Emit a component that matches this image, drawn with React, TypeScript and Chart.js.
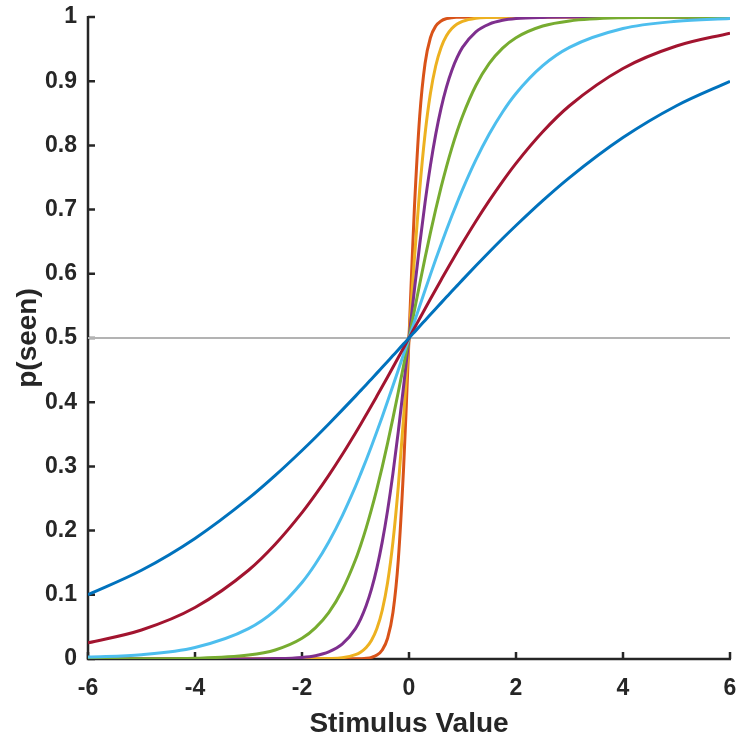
import React, { useEffect, useRef } from "react";
import { Chart, registerables } from "chart.js";

Chart.register(...registerables);

const xValues = [-6, -5, -4, -3, -2.5, -2, -1.75, -1.5, -1.25, -1, -0.9, -0.8, -0.7, -0.6, -0.5, -0.4, -0.3, -0.2, -0.1, -0.05, 0, 0.05, 0.1, 0.2, 0.3, 0.4, 0.5, 0.6, 0.7, 0.8, 0.9, 1, 1.25, 1.5, 1.75, 2, 2.5, 3, 4, 5, 6];

const blueSeries = [0.1001, 0.1382, 0.1878, 0.2501, 0.2860, 0.3248, 0.3451, 0.3661, 0.3876, 0.4095, 0.4184, 0.4273, 0.4363, 0.4453, 0.4544, 0.4635, 0.4726, 0.4817, 0.4909, 0.4954, 0.5, 0.5046, 0.5091, 0.5183, 0.5274, 0.5365, 0.5456, 0.5547, 0.5637, 0.5727, 0.5816, 0.5905, 0.6124, 0.6339, 0.6549, 0.6752, 0.7140, 0.7499, 0.8122, 0.8618, 0.8999];
const redSeries = [0.0251, 0.0452, 0.0802, 0.1382, 0.1787, 0.2279, 0.2559, 0.2860, 0.3181, 0.3521, 0.3661, 0.3804, 0.3948, 0.4095, 0.4243, 0.4393, 0.4544, 0.4695, 0.4848, 0.4924, 0.5, 0.5076, 0.5152, 0.5305, 0.5456, 0.5607, 0.5757, 0.5905, 0.6052, 0.6196, 0.6339, 0.6479, 0.6819, 0.7140, 0.7441, 0.7721, 0.8213, 0.8618, 0.9198, 0.9548, 0.9749];
const lightBlueSeries = [0.0030, 0.0067, 0.0180, 0.0474, 0.0759, 0.1192, 0.1480, 0.1824, 0.2227, 0.2689, 0.2891, 0.3100, 0.3318, 0.3543, 0.3775, 0.4013, 0.4256, 0.4502, 0.4750, 0.4875, 0.5, 0.5125, 0.5250, 0.5498, 0.5744, 0.5987, 0.6225, 0.6457, 0.6682, 0.6900, 0.7109, 0.7311, 0.7773, 0.8176, 0.8520, 0.8808, 0.9241, 0.9526, 0.9820, 0.9933, 0.9975];
const greenSeries = [0.0, 0.0002, 0.0011, 0.0061, 0.0141, 0.0323, 0.0486, 0.0724, 0.1067, 0.1545, 0.1780, 0.2042, 0.2333, 0.2650, 0.2994, 0.3363, 0.3752, 0.4158, 0.4576, 0.4788, 0.5, 0.5212, 0.5424, 0.5842, 0.6248, 0.6637, 0.7006, 0.7350, 0.7667, 0.7958, 0.8220, 0.8455, 0.8933, 0.9276, 0.9514, 0.9677, 0.9859, 0.9939, 0.9989, 0.9998, 1.0];
const purpleSeries = [0, 0, 0, 0.0001, 0.0006, 0.0025, 0.0052, 0.0110, 0.0230, 0.0474, 0.0630, 0.0832, 0.1091, 0.1419, 0.1824, 0.2315, 0.2891, 0.3543, 0.4256, 0.4625, 0.5, 0.5375, 0.5744, 0.6457, 0.7109, 0.7685, 0.8176, 0.8581, 0.8909, 0.9168, 0.9370, 0.9526, 0.9770, 0.9890, 0.9948, 0.9975, 0.9994, 0.9999, 1, 1, 1];
const yellowSeries = [0, 0, 0, 0, 0, 0, 0.0002, 0.0006, 0.0019, 0.0067, 0.0110, 0.0180, 0.0293, 0.0474, 0.0759, 0.1192, 0.1824, 0.2689, 0.3775, 0.4378, 0.5, 0.5622, 0.6225, 0.7311, 0.8176, 0.8808, 0.9241, 0.9526, 0.9707, 0.9820, 0.9890, 0.9933, 0.9981, 0.9994, 0.9998, 1, 1, 1, 1, 1, 1];
const orangeSeries = [0, 0, 0, 0, 0, 0, 0, 0, 0, 0.0002, 0.0005, 0.0011, 0.0026, 0.0061, 0.0141, 0.0323, 0.0724, 0.1545, 0.2994, 0.3953, 0.5, 0.6047, 0.7006, 0.8455, 0.9276, 0.9677, 0.9859, 0.9939, 0.9974, 0.9989, 0.9995, 0.9998, 1, 1, 1, 1, 1, 1, 1, 1, 1];

const referenceLineX = [-6, 6];
const referenceLineY = [0.5, 0.5];

const xTicks = [-6, -4, -2, 0, 2, 4, 6];
const xTickLabels = ["-6", "-4", "-2", "0", "2", "4", "6"];
const yTicks = [0, 0.1, 0.2, 0.3, 0.4, 0.5, 0.6, 0.7, 0.8, 0.9, 1];
const yTickLabels = ["0", "0.1", "0.2", "0.3", "0.4", "0.5", "0.6", "0.7", "0.8", "0.9", "1"];

const FONT = '"Liberation Sans", Arial, Helvetica, sans-serif';
const AXIS_COLOR = "#262626";

const toPoints = (ys: number[]) => ys.map((y, i) => ({ x: xValues[i], y }));

const zeroPadding = (scale: any) => {
  scale.paddingLeft = 0;
  scale.paddingRight = 0;
  scale.paddingTop = 0;
  scale.paddingBottom = 0;
};

const axesPlugin = {
  id: "matlabAxes",
  beforeDatasetsDraw(chart: any) {
    const { ctx, chartArea, scales } = chart;
    const { left, right, top, bottom } = chartArea;
    ctx.save();
    ctx.strokeStyle = AXIS_COLOR;
    ctx.lineWidth = 2.5;
    ctx.lineCap = "butt";
    ctx.beginPath();
    ctx.moveTo(left, top - 1);
    ctx.lineTo(left, bottom);
    ctx.lineTo(right + 1, bottom);
    ctx.stroke();
    ctx.beginPath();
    yTicks.forEach((v) => {
      const py = scales.y.getPixelForValue(v);
      ctx.moveTo(left, py);
      ctx.lineTo(left + 7, py);
    });
    xTicks.forEach((v) => {
      const px = scales.x.getPixelForValue(v);
      ctx.moveTo(px, bottom);
      ctx.lineTo(px, bottom - 7);
    });
    ctx.stroke();
    ctx.restore();
  },
};

export default function App() {
  const canvasRef = useRef<HTMLCanvasElement | null>(null);

  useEffect(() => {
    document.body.style.margin = "0";
    const canvas = canvasRef.current;
    if (!canvas) return;
    const lineDs = (label: string, ys: number[], color: string) => ({
      label,
      data: toPoints(ys),
      borderColor: color,
      backgroundColor: color,
      borderWidth: 3,
      pointRadius: 0,
      cubicInterpolationMode: "monotone" as const,
      fill: false,
    });
    const chart = new Chart(canvas, {
      type: "line",
      data: {
        datasets: [
          lineDs("blue", blueSeries, "#0072BD"),
          lineDs("red", redSeries, "#A2142F"),
          lineDs("lightblue", lightBlueSeries, "#4DBEEE"),
          lineDs("green", greenSeries, "#77AC30"),
          lineDs("purple", purpleSeries, "#7E2F8E"),
          lineDs("yellow", yellowSeries, "#EDB120"),
          lineDs("orange", orangeSeries, "#D95319"),
          {
            label: "half",
            data: referenceLineX.map((x, i) => ({ x, y: referenceLineY[i] })),
            borderColor: "#B3B3B3",
            borderWidth: 2,
            pointRadius: 0,
            fill: false,
          },
        ],
      },
      options: {
        responsive: false,
        animation: false,
        events: [],
        layout: { padding: { top: 17, right: 8, left: 0, bottom: 0 } },
        plugins: { legend: { display: false }, tooltip: { enabled: false } },
        scales: {
          x: {
            type: "linear",
            min: -6,
            max: 6,
            afterBuildTicks: (scale: any) => {
              scale.ticks = xTicks.map((v) => ({ value: v }));
            },
            afterFit: (scale: any) => {
              scale.height = 77;
              zeroPadding(scale);
            },
            ticks: {
              callback: (_v: any, i: number) => xTickLabels[i],
              color: AXIS_COLOR,
              font: { family: FONT, size: 23, weight: "bold", lineHeight: 1.2 },
              padding: 16,
              maxRotation: 0,
            },
            grid: { display: false, drawTicks: false },
            border: { display: false },
            title: {
              display: true,
              text: "Stimulus Value",
              color: AXIS_COLOR,
              font: { family: FONT, size: 28, weight: "bold", lineHeight: 1 },
              padding: { top: 0, bottom: -2 },
            },
          },
          y: {
            type: "linear",
            min: 0,
            max: 1,
            afterBuildTicks: (scale: any) => {
              scale.ticks = yTicks.map((v) => ({ value: v }));
            },
            afterFit: (scale: any) => {
              scale.width = 88;
              zeroPadding(scale);
            },
            ticks: {
              callback: (_v: any, i: number) => yTickLabels[i],
              color: AXIS_COLOR,
              font: { family: FONT, size: 23, weight: "bold", lineHeight: 1.2 },
              padding: 11,
            },
            grid: { display: false, drawTicks: false },
            border: { display: false },
            title: {
              display: true,
              text: "p(seen)",
              color: AXIS_COLOR,
              font: { family: FONT, size: 28, weight: "bold", lineHeight: 1 },
              padding: { top: 14, bottom: 0 },
            },
          },
        },
      },
      plugins: [axesPlugin],
    });
    return () => chart.destroy();
  }, []);

  return (
    <div style={{ position: "relative", width: 738, height: 736, background: "#fff" }}>
      <canvas ref={canvasRef} width={738} height={736} />
    </div>
  );
}
